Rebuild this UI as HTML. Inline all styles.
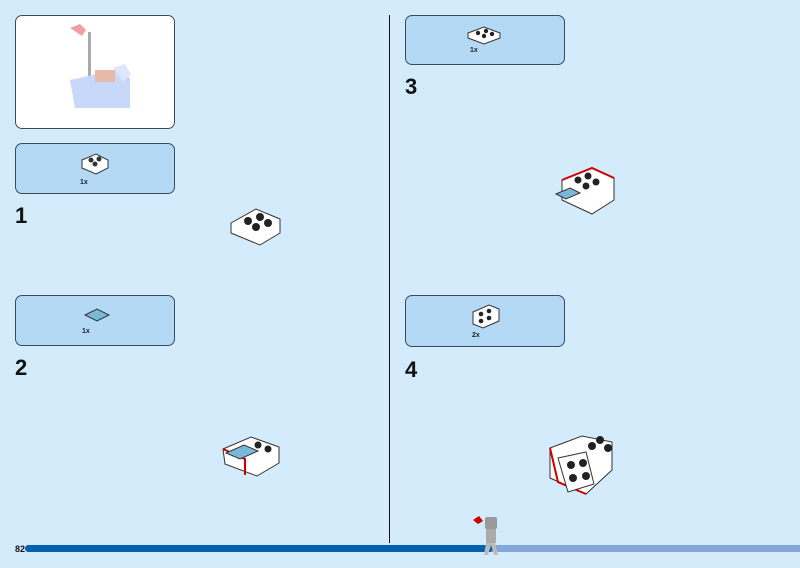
<!DOCTYPE html>
<html><head><meta charset="utf-8"><style>
html,body{margin:0;padding:0}
body{width:800px;height:568px;background:#d3ebfa;position:relative;overflow:hidden;font-family:"Liberation Sans",sans-serif}
.box{position:absolute;border:1.5px solid #3a4a5a;border-radius:7px;background:#b3d9f4;box-sizing:border-box}
.num{position:absolute;font-size:22px;font-weight:bold;color:#111}
.qty{position:absolute;font-size:7px;font-weight:bold;color:#222}
</style></head><body>
<div class="box" style="left:15px;top:15px;width:160px;height:114px;background:#fff"></div>
<svg style="position:absolute;left:55px;top:20px" width="90" height="100">
<path d="M15 8 l10 -4 l6 6 l-4 6 z" fill="#f0a0a0"/>
<rect x="33" y="12" width="3" height="50" fill="#aaa"/>
<path d="M15 60 l45 -10 l15 8 l0 30 l-55 0 z" fill="#c8d8f8"/>
<rect x="40" y="50" width="20" height="12" fill="#e8b8a8"/>
<path d="M58 48 l12 -4 l6 10 l-8 8 z" fill="#dde6fa"/>
</svg>
<div class="box" style="left:15px;top:143px;width:160px;height:51px"></div>
<svg style="position:absolute;left:80px;top:150px" width="30" height="28"><path d="M2 10 l14-6 l12 6 v8 l-12 6 l-14-6z" fill="#fff" stroke="#333"/><circle cx="11" cy="10" r="2.5" fill="#333"/><circle cx="19" cy="9" r="2.5" fill="#333"/><circle cx="15" cy="14" r="2.5" fill="#333"/></svg>
<div class="qty" style="left:80px;top:179px">1x</div>
<div class="num" style="left:15px;top:203px">1</div>
<svg style="position:absolute;left:228px;top:205px" width="55" height="42"><path d="M3 18 l25-14 l24 10 v14 l-20 12 l-29-12z" fill="#fff" stroke="#333"/><circle cx="20" cy="16" r="4" fill="#222"/><circle cx="32" cy="12" r="4" fill="#222"/><circle cx="28" cy="22" r="4" fill="#222"/><circle cx="40" cy="18" r="4" fill="#222"/></svg>

<div class="box" style="left:15px;top:295px;width:160px;height:51px"></div>
<svg style="position:absolute;left:82px;top:305px" width="30" height="22"><path d="M3 10 l12-6 l12 6 l-12 6z" fill="#7ab8d8" stroke="#333"/></svg>
<div class="qty" style="left:82px;top:328px">1x</div>
<div class="num" style="left:15px;top:355px">2</div>
<svg style="position:absolute;left:220px;top:435px" width="62" height="44"><path d="M3 14 l28-12 l28 10 v16 l-22 13 l-32-12z" fill="#fff" stroke="#333"/><path d="M3 14 l22 10 v16" fill="none" stroke="#c00" stroke-width="2"/><path d="M6 18 l18-8 l14 6 l-18 8z" fill="#7ab8d8" stroke="#333"/><circle cx="38" cy="10" r="3.5" fill="#222"/><circle cx="48" cy="14" r="3.5" fill="#222"/></svg>

<div style="position:absolute;left:389px;top:15px;width:1px;height:528px;background:#111"></div>

<div class="box" style="left:405px;top:15px;width:160px;height:50px"></div>
<svg style="position:absolute;left:466px;top:25px" width="36" height="20"><path d="M2 8 l16-6 l16 6 v5 l-16 6 l-16-6z" fill="#fff" stroke="#333"/><circle cx="12" cy="8" r="2.2" fill="#222"/><circle cx="20" cy="6" r="2.2" fill="#222"/><circle cx="18" cy="11" r="2.2" fill="#222"/><circle cx="26" cy="9" r="2.2" fill="#222"/></svg>
<div class="qty" style="left:470px;top:47px">1x</div>
<div class="num" style="left:405px;top:74px">3</div>
<svg style="position:absolute;left:552px;top:164px" width="66" height="54"><path d="M10 16 l30-12 l22 10 v22 l-22 14 l-30-14z" fill="#fff" stroke="#333"/><path d="M10 16 l30-12 l22 10" fill="none" stroke="#c00" stroke-width="2"/><path d="M4 30 l14-6 l10 5 l-14 6z" fill="#7ab8d8" stroke="#333"/><circle cx="26" cy="16" r="3.5" fill="#222"/><circle cx="36" cy="12" r="3.5" fill="#222"/><circle cx="34" cy="22" r="3.5" fill="#222"/><circle cx="44" cy="18" r="3.5" fill="#222"/></svg>

<div class="box" style="left:405px;top:295px;width:160px;height:52px"></div>
<svg style="position:absolute;left:470px;top:302px" width="32" height="28"><path d="M3 10 l16-7 l10 4 v12 l-16 7 l-10-4z" fill="#fff" stroke="#333"/><circle cx="11" cy="12" r="2.3" fill="#222"/><circle cx="19" cy="9" r="2.3" fill="#222"/><circle cx="11" cy="19" r="2.3" fill="#222"/><circle cx="19" cy="16" r="2.3" fill="#222"/></svg>
<div class="qty" style="left:472px;top:332px">2x</div>
<div class="num" style="left:405px;top:357px">4</div>
<svg style="position:absolute;left:542px;top:428px" width="76" height="70"><path d="M8 20 l32-12 l30 6 v28 l-26 24 l-36-16z" fill="#fff" stroke="#333"/><path d="M8 20 l8 34 l28 12" fill="none" stroke="#c00" stroke-width="2"/><path d="M16 30 l28-6 l8 32 l-26 8z" fill="#fff" stroke="#333"/><circle cx="29" cy="37" r="4" fill="#222"/><circle cx="41" cy="35" r="4" fill="#222"/><circle cx="31" cy="50" r="4" fill="#222"/><circle cx="44" cy="48" r="4" fill="#222"/><circle cx="58" cy="12" r="4" fill="#222"/><circle cx="66" cy="20" r="4" fill="#222"/><circle cx="50" cy="18" r="4" fill="#222"/></svg>

<div style="position:absolute;left:15px;top:544px;font-size:9px;font-weight:bold;color:#111">82</div>
<div style="position:absolute;left:25px;top:545px;width:800px;height:7px;border-radius:4px;background:#84a6d8"></div>
<div style="position:absolute;left:25px;top:545px;width:468px;height:7px;border-radius:4px;background:#0560ae"></div>
<svg style="position:absolute;left:470px;top:513px" width="36" height="45"><path d="M3 7 l6-4 l4 5 l-5 3z" fill="#c00"/><rect x="15" y="4" width="12" height="12" rx="2" fill="#999"/><rect x="16" y="16" width="10" height="14" fill="#aaa"/><path d="M16 30 l-2 12 h4 l3-10 l3 10 h4 l-3-12z" fill="#bbb"/></svg>
</body></html>
